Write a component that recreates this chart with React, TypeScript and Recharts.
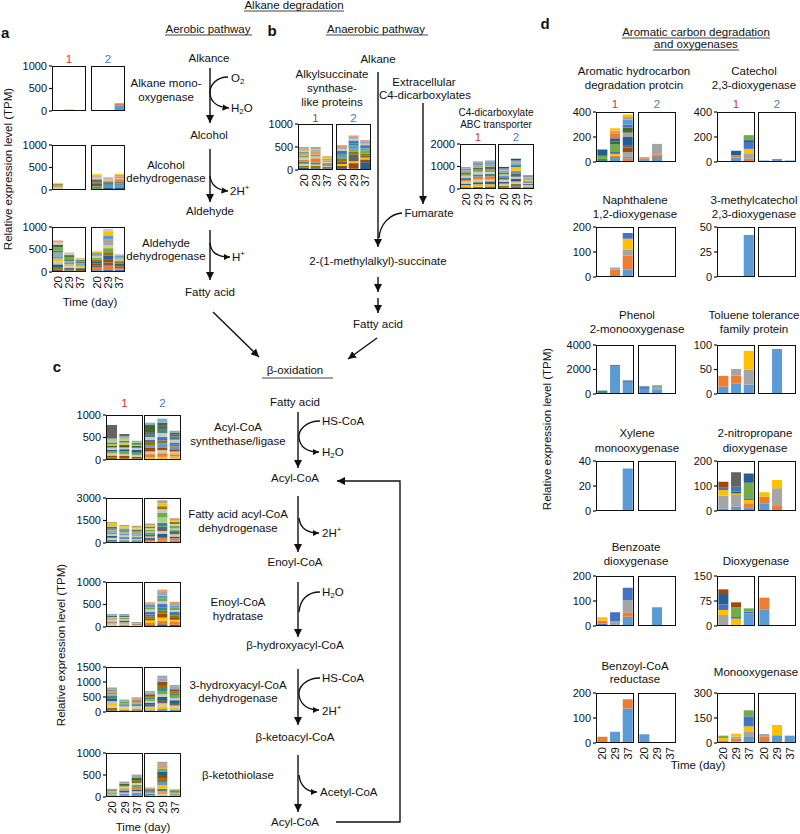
import React from 'react'
import { BarChart, Bar, XAxis, YAxis } from 'recharts'

// sampling days shared by every small chart
const DAYS = ['20', '29', '37']

// Excel-like palette, one colour per taxon / gene group
const PALETTE = [
  '#5b9bd5', '#ed7d31', '#a5a5a5', '#ffc000', '#4472c4', '#70ad47',
  '#255e91', '#9e480e', '#636363', '#997300', '#264478', '#43682b',
  '#7cafdd', '#f1975a', '#c9c9c9', '#ffcd33', '#3e8a7e', '#a9d18e',
  '#d6c7a1', '#9dc3e6', '#8faadc', '#b7a36b',
]

// each row: [palette index, day 20, day 29, day 37] (TPM), stacked bottom -> top
type Row = number[]

// ---- a: aerobic alkane degradation
const alkMonoR1: Row[] = [[6, 0, 25, 0], [0, 0, 5, 0]]
const alkMonoR2: Row[] = [[0, 0, 0, 115], [1, 0, 0, 40], [13, 0, 0, 20]]
const alcDhR1: Row[] = [[18, 60, 0, 0], [21, 55, 0, 0], [9, 15, 0, 0], [11, 10, 0, 0]]
const alcDhR2: Row[] = [
  [5, 50, 20, 20], [6, 20, 40, 25], [0, 15, 30, 60], [7, 50, 15, 10],
  [16, 40, 25, 30], [9, 25, 30, 15], [8, 30, 25, 20], [1, 20, 15, 60],
  [18, 30, 30, 25], [2, 25, 30, 30], [13, 20, 15, 45], [3, 25, 15, 20],
]
const aldDhR1: Row[] = [
  [8, 60, 30, 20], [9, 50, 40, 25], [6, 60, 25, 40], [18, 70, 35, 25],
  [3, 60, 40, 30], [0, 50, 30, 35], [2, 80, 45, 20], [16, 50, 40, 30],
  [5, 70, 50, 25], [11, 50, 40, 20], [14, 60, 35, 25], [13, 40, 20, 15],
]
const aldDhR2: Row[] = [
  [4, 40, 60, 50], [1, 60, 80, 40], [8, 40, 70, 30], [7, 50, 60, 35],
  [6, 50, 90, 30], [9, 30, 80, 40], [5, 40, 90, 35], [18, 40, 70, 30],
  [2, 30, 120, 30], [0, 40, 80, 35], [3, 30, 90, 25], [14, 20, 70, 20],
]

// ---- b: anaerobic pathway
const assR1: Row[] = [
  [6, 50, 40, 40], [9, 40, 50, 30], [18, 45, 30, 25], [16, 50, 45, 30],
  [1, 40, 90, 35], [14, 45, 40, 20], [5, 40, 35, 25], [13, 45, 70, 20],
  [0, 40, 30, 20], [3, 35, 25, 35], [2, 40, 25, 5], [21, 30, 20, 15],
]
const assR2: Row[] = [
  [6, 40, 30, 170], [7, 50, 120, 60], [3, 40, 40, 40], [8, 60, 150, 50],
  [9, 50, 60, 40], [5, 40, 50, 70], [0, 50, 80, 40], [16, 40, 40, 30],
  [4, 50, 70, 40], [18, 40, 40, 30], [12, 40, 40, 40], [13, 40, 30, 40],
]
const c4R1: Row[] = [
  [9, 80, 100, 120], [3, 90, 110, 90], [6, 70, 90, 130], [18, 100, 120, 80],
  [1, 60, 130, 150], [16, 90, 100, 100], [14, 100, 110, 90], [5, 80, 100, 110],
  [8, 70, 90, 120], [21, 90, 100, 90], [0, 80, 100, 110], [2, 70, 80, 80],
]
const c4R2: Row[] = [
  [4, 80, 120, 60], [9, 70, 110, 50], [18, 90, 100, 70], [6, 80, 130, 40],
  [14, 100, 90, 60], [8, 70, 150, 50], [0, 90, 110, 40], [3, 70, 160, 50],
  [16, 90, 100, 40], [12, 80, 100, 40], [2, 90, 100, 60], [10, 70, 80, 40],
]

// ---- c: beta-oxidation
const acsR1: Row[] = [
  [9, 60, 40, 40], [7, 40, 50, 30], [18, 50, 40, 40], [5, 40, 60, 50],
  [6, 30, 50, 60], [14, 60, 40, 50], [11, 40, 60, 40], [3, 30, 50, 30],
  [16, 40, 40, 40], [17, 60, 60, 20], [2, 30, 40, 30], [8, 300, 50, 0],
]
const acsR2: Row[] = [
  [3, 60, 70, 80], [1, 70, 80, 50], [18, 60, 70, 60], [7, 80, 60, 50],
  [0, 60, 90, 60], [9, 70, 60, 40], [4, 50, 80, 50], [14, 60, 90, 60],
  [16, 50, 70, 70], [8, 60, 90, 50], [11, 170, 70, 40], [12, 40, 90, 40],
]
const fadR1: Row[] = [
  [7, 100, 80, 90], [16, 120, 100, 100], [14, 130, 110, 90], [6, 110, 100, 110],
  [18, 140, 120, 100], [0, 120, 100, 90], [2, 130, 110, 100], [5, 100, 90, 100],
  [8, 130, 110, 90], [17, 120, 100, 100], [3, 100, 90, 90], [21, 100, 90, 90],
]
const fadR2: Row[] = [
  [0, 100, 150, 150], [1, 110, 200, 160], [6, 120, 250, 130], [18, 100, 200, 150],
  [8, 120, 300, 140], [16, 110, 250, 120], [17, 100, 350, 150], [5, 120, 300, 140],
  [14, 100, 250, 130], [9, 110, 200, 140], [3, 110, 200, 120], [2, 100, 200, 120],
]
const echR1: Row[] = [
  [9, 30, 40, 20], [18, 40, 30, 15], [2, 30, 40, 10], [7, 25, 35, 15],
  [14, 40, 30, 10], [5, 30, 30, 15], [3, 25, 20, 5], [8, 30, 30, 10],
  [21, 20, 15, 5], [0, 20, 20, 5],
]
const echR2: Row[] = [
  [6, 40, 60, 50], [1, 50, 80, 60], [3, 60, 70, 50], [7, 40, 90, 40],
  [9, 50, 60, 50], [16, 40, 70, 40], [4, 60, 80, 50], [14, 50, 60, 40],
  [5, 40, 70, 50], [0, 60, 60, 40], [2, 30, 80, 40], [13, 30, 50, 50],
]
const hadR1: Row[] = [
  [8, 60, 40, 40], [9, 80, 40, 50], [18, 70, 40, 40], [3, 90, 30, 30],
  [14, 60, 40, 50], [6, 100, 30, 40], [16, 70, 40, 30], [2, 60, 40, 50],
  [5, 50, 30, 40], [1, 40, 30, 50], [0, 60, 30, 30], [21, 80, 30, 40],
]
const hadR2: Row[] = [
  [0, 60, 100, 70], [3, 70, 90, 80], [18, 50, 100, 70], [8, 60, 110, 80],
  [6, 70, 100, 90], [14, 60, 90, 70], [5, 50, 110, 80], [16, 60, 100, 70],
  [9, 50, 100, 80], [7, 60, 110, 70], [12, 60, 100, 80], [2, 50, 100, 60],
]
const ktR1: Row[] = [
  [16, 20, 30, 40], [0, 20, 40, 50], [18, 20, 30, 40], [6, 20, 50, 40],
  [1, 10, 20, 60], [5, 20, 30, 50], [14, 20, 40, 40], [9, 20, 30, 50],
  [11, 20, 30, 60], [2, 20, 50, 80],
]
const ktR2: Row[] = [
  [18, 20, 60, 20], [13, 20, 70, 20], [16, 30, 60, 20], [3, 20, 80, 20],
  [0, 20, 70, 20], [9, 20, 90, 20], [7, 20, 70, 20], [6, 25, 80, 10],
  [5, 20, 70, 10], [13, 20, 80, 10], [2, 0, 70, 10],
]

// ---- d: aromatic carbon degradation and oxygenases
const aroHydR1: Row[] = [
  [1, 0, 0, 30], [0, 0, 40, 15], [16, 25, 0, 0], [1, 0, 10, 0], [2, 0, 0, 35],
  [3, 0, 15, 0], [7, 0, 0, 35], [4, 0, 15, 0], [8, 0, 0, 20], [5, 25, 60, 0],
  [11, 0, 25, 0], [6, 50, 25, 65], [2, 0, 0, 35], [1, 0, 40, 0], [11, 0, 0, 40],
  [13, 0, 20, 0], [4, 0, 0, 25], [0, 0, 0, 40], [2, 0, 0, 20], [3, 0, 20, 20],
]
const aroHydR2: Row[] = [[0, 15, 40, 0], [1, 15, 20, 0], [2, 0, 85, 0], [13, 10, 0, 0]]
const catR1: Row[] = [
  [1, 0, 0, 25], [0, 0, 35, 0], [2, 0, 0, 45], [1, 0, 20, 0], [3, 0, 0, 35],
  [6, 0, 35, 0], [4, 0, 0, 55], [6, 0, 0, 15], [5, 0, 0, 40],
]
const catR2: Row[] = [[0, 12, 25, 12]]
const naphR1: Row[] = [[0, 0, 0, 30], [1, 0, 30, 55], [2, 0, 8, 25], [3, 0, 0, 43], [4, 0, 0, 23]]
const naphR2: Row[] = []
const mcatR1: Row[] = [[0, 0, 0, 42]]
const mcatR2: Row[] = []
const phenR1: Row[] = [[16, 280, 0, 0], [0, 0, 2250, 1000], [6, 0, 100, 100]]
const phenR2: Row[] = [[0, 420, 330, 0], [4, 140, 0, 0], [2, 0, 270, 0], [6, 60, 0, 0], [16, 0, 100, 0]]
const tolR1: Row[] = [[0, 15, 21, 19], [1, 22, 17, 0], [2, 0, 13, 31], [3, 0, 0, 38]]
const tolR2: Row[] = [[0, 0, 92, 0]]
const xylR1: Row[] = [[0, 0, 0, 34]]
const xylR2: Row[] = []
const nitR1: Row[] = [
  [0, 11, 17, 15], [1, 0, 0, 16], [2, 50, 47, 0], [3, 23, 6, 13], [4, 9, 0, 7],
  [6, 0, 7, 0], [4, 0, 20, 0], [5, 0, 0, 62], [7, 24, 0, 0], [8, 0, 58, 0], [6, 0, 0, 37],
]
const nitR2: Row[] = [[0, 31, 0, 0], [1, 26, 20, 0], [2, 0, 71, 0], [3, 18, 33, 0]]
const benzR1: Row[] = [
  [0, 0, 0, 37], [4, 8, 0, 0], [2, 4, 20, 0], [1, 10, 0, 18], [3, 13, 0, 0],
  [2, 0, 0, 49], [4, 0, 35, 49],
]
const benzR2: Row[] = [[0, 0, 75, 0]]
const dioxR1: Row[] = [
  [0, 0, 0, 38], [2, 33, 0, 0], [3, 15, 22, 0], [4, 17, 5, 5], [6, 31, 0, 0],
  [5, 0, 29, 10], [7, 14, 15, 0],
]
const dioxR2: Row[] = [[0, 50, 0, 0], [1, 35, 0, 0]]
const bzcoaR1: Row[] = [[1, 25, 0, 0], [0, 0, 45, 138], [1, 0, 0, 37]]
const bzcoaR2: Row[] = [[0, 35, 0, 0]]
const monoR1: Row[] = [[0, 0, 8, 36], [1, 16, 17, 0], [2, 0, 13, 30], [3, 14, 18, 34], [4, 0, 0, 60], [5, 14, 0, 36]]
const monoR2: Row[] = [[0, 0, 46, 44], [1, 40, 0, 0], [2, 14, 0, 0], [3, 0, 62, 0]]

// y-axis ticks
const T1000 = [0, 500, 1000]
const T1500 = [0, 500, 1000, 1500]
const T2000 = [0, 1000, 2000]
const T3000 = [0, 1500, 3000]
const T400 = [0, 200, 400]
const T200 = [0, 100, 200]
const T50 = [0, 25, 50]
const T4000 = [0, 2000, 4000]
const T100 = [0, 50, 100]
const T40 = [0, 20, 40]
const T150 = [0, 75, 150]
const T300 = [0, 150, 300]

interface Pair {
  x: number; x2: number; y: number; w: number; h: number
  ticks: number[]; inner: number; r1: Row[]; r2: Row[]
  gap: string; xl?: boolean; lab?: number
}

const DL = 596, DL2 = 638, DR = 717, DR2 = 758
const PAIRS: Pair[] = [
  { x: 52, x2: 91, y: 66, w: 34, h: 45, ticks: T1000, inner: 500, r1: alkMonoR1, r2: alkMonoR2, gap: '8%', lab: 59 },
  { x: 52, x2: 91, y: 145, w: 34, h: 45, ticks: T1000, inner: 500, r1: alcDhR1, r2: alcDhR2, gap: '8%' },
  { x: 52, x2: 91, y: 227, w: 34, h: 45, ticks: T1000, inner: 500, r1: aldDhR1, r2: aldDhR2, gap: '8%', xl: true },
  { x: 298, x2: 336, y: 124, w: 35, h: 46, ticks: T1000, inner: 500, r1: assR1, r2: assR2, gap: '8%', xl: true, lab: 118 },
  { x: 460, x2: 498, y: 144, w: 36, h: 45, ticks: T2000, inner: 1000, r1: c4R1, r2: c4R2, gap: '8%', xl: true, lab: 137 },
  { x: 106, x2: 144, y: 415, w: 37, h: 45, ticks: T1000, inner: 500, r1: acsR1, r2: acsR2, gap: '8%', lab: 403 },
  { x: 106, x2: 144, y: 498, w: 37, h: 45, ticks: T3000, inner: 1500, r1: fadR1, r2: fadR2, gap: '8%' },
  { x: 106, x2: 144, y: 582, w: 37, h: 45, ticks: T1000, inner: 500, r1: echR1, r2: echR2, gap: '8%' },
  { x: 106, x2: 144, y: 667, w: 37, h: 45, ticks: T1500, inner: 1000, r1: hadR1, r2: hadR2, gap: '8%' },
  { x: 106, x2: 144, y: 753, w: 37, h: 44, ticks: T1000, inner: 500, r1: ktR1, r2: ktR2, gap: '8%', xl: true },
  { x: DL, x2: DL2, y: 112, w: 38, h: 50, ticks: T400, inner: 200, r1: aroHydR1, r2: aroHydR2, gap: '11%', lab: 104 },
  { x: DR, x2: DR2, y: 112, w: 38, h: 50, ticks: T400, inner: 200, r1: catR1, r2: catR2, gap: '11%', lab: 104 },
  { x: DL, x2: DL2, y: 227, w: 38, h: 50, ticks: T200, inner: 100, r1: naphR1, r2: naphR2, gap: '11%' },
  { x: DR, x2: DR2, y: 227, w: 38, h: 50, ticks: T50, inner: 25, r1: mcatR1, r2: mcatR2, gap: '11%' },
  { x: DL, x2: DL2, y: 345, w: 38, h: 49, ticks: T4000, inner: 2000, r1: phenR1, r2: phenR2, gap: '11%' },
  { x: DR, x2: DR2, y: 345, w: 38, h: 49, ticks: T100, inner: 50, r1: tolR1, r2: tolR2, gap: '11%' },
  { x: DL, x2: DL2, y: 461, w: 38, h: 50, ticks: T40, inner: 20, r1: xylR1, r2: xylR2, gap: '11%' },
  { x: DR, x2: DR2, y: 461, w: 38, h: 50, ticks: T200, inner: 100, r1: nitR1, r2: nitR2, gap: '11%' },
  { x: DL, x2: DL2, y: 576, w: 38, h: 50, ticks: T200, inner: 100, r1: benzR1, r2: benzR2, gap: '11%' },
  { x: DR, x2: DR2, y: 576, w: 38, h: 50, ticks: T150, inner: 75, r1: dioxR1, r2: dioxR2, gap: '11%' },
  { x: DL, x2: DL2, y: 693, w: 38, h: 50, ticks: T200, inner: 100, r1: bzcoaR1, r2: bzcoaR2, gap: '11%', xl: true },
  { x: DR, x2: DR2, y: 693, w: 38, h: 50, ticks: T300, inner: 150, r1: monoR1, r2: monoR2, gap: '11%', xl: true },
]

const INK = '#111'
const FONT = '"Liberation Sans", Arial, sans-serif'
const PAD = 8

function DayTick(props: any) {
  const { x, y, payload } = props
  return (
    <text transform={`translate(${x},${y}) rotate(-90)`} textAnchor="end" dominantBaseline="central" fontSize={11.5} fill={INK}>
      {payload.value}
    </text>
  )
}

function Box({ rows, x, y, w, h, ticks, inner, first, xl, gap }: {
  rows: Row[]; x: number; y: number; w: number; h: number; ticks: number[]
  inner: number; first: boolean; xl?: boolean; gap: string
}) {
  const data = DAYS.map((d, j) => {
    const o: Record<string, any> = { day: d }
    rows.forEach((r, i) => { o['s' + i] = r[j + 1] })
    return o
  })
  const axisW = first ? 34 : 0
  const max = ticks[ticks.length - 1]
  const xh = 22
  return (
    <div style={{ position: 'absolute', left: x - axisW, top: y - PAD }}>
      <BarChart
        width={axisW + w + 2}
        height={PAD + h + (xl ? xh : PAD)}
        data={data}
        margin={{ top: PAD, right: 2, bottom: xl ? 0 : PAD, left: 0 }}
        barCategoryGap={gap}
      >
        <XAxis dataKey="day" hide={!xl} height={xh} axisLine={false} tickLine={false}
          tickSize={0} tickMargin={4} interval={0} tick={<DayTick />} />
        {first ? (
          <YAxis type="number" domain={[0, max]} ticks={ticks} interval={0} width={axisW}
            axisLine={false} tickSize={3} tickMargin={2} allowDataOverflow
            tick={{ fontSize: 11, fill: INK }} tickLine={{ stroke: INK, strokeWidth: 1.2 }} />
        ) : (
          <YAxis type="number" domain={[0, max]} ticks={[inner]} interval={0} width={0} mirror
            axisLine={false} tick={false} tickSize={3} allowDataOverflow
            tickLine={{ stroke: INK, strokeWidth: 1.2 }} />
        )}
        {rows.map((r, i) => (
          <Bar key={i} dataKey={'s' + i} stackId="s" fill={PALETTE[r[0]]} isAnimationActive={false} />
        ))}
      </BarChart>
      <div style={{
        position: 'absolute', left: axisW, top: PAD, width: w, height: h,
        border: `1.5px solid ${INK}`, boxSizing: 'border-box',
      }} />
    </div>
  )
}

function T({ x, y, a = 'middle', s = 11.5, w, c = INK, children }: any) {
  return (
    <text x={x} y={y} textAnchor={a} dominantBaseline="central" fontSize={s} fontWeight={w} fill={c}>
      {children}
    </text>
  )
}

const sub = (t: string) => <tspan fontSize={8} dy={3}>{t}</tspan>
const sup = (t: string) => <tspan fontSize={8} dy={-4}>{t}</tspan>

function YLabel({ x, y }: { x: number; y: number }) {
  return (
    <text transform={`translate(${x},${y}) rotate(-90)`} textAnchor="middle" dominantBaseline="central" fontSize={11.5} fill={INK}>
      Relative expression level (TPM)
    </text>
  )
}

function Overlay() {
  const L = { stroke: INK, strokeWidth: 1.4, fill: 'none' }
  const U = { stroke: INK, strokeWidth: 0.8 }
  return (
    <svg width={800} height={834} style={{ position: 'absolute', left: 0, top: 0 }}>
      <defs>
        <marker id="ah" viewBox="0 0 10 10" refX="10" refY="5" markerWidth="8" markerHeight="8"
          markerUnits="userSpaceOnUse" orient="auto">
          <path d="M0,0 L10,5 L0,10 z" fill={INK} />
        </marker>
        <marker id="as" viewBox="0 0 10 10" refX="10" refY="5" markerWidth="6.5" markerHeight="6.5"
          markerUnits="userSpaceOnUse" orient="auto">
          <path d="M0,0 L10,5 L0,10 z" fill={INK} />
        </marker>
      </defs>

      {/* panel letters and headings */}
      <T x={1} y={32} a="start" s={15} w="bold">a</T>
      <T x={272} y={30} s={15} w="bold">b</T>
      <T x={57} y={366} s={15} w="bold">c</T>
      <T x={545} y={23} s={15} w="bold">d</T>

      <T x={294} y={5}>Alkane degradation</T>
      <line x1={244} y1={11} x2={344} y2={11} {...U} />
      <T x={208} y={29}>Aerobic pathway</T>
      <line x1={165} y1={35} x2={252} y2={35} {...U} />
      <T x={376} y={29}>Anaerobic pathway</T>
      <line x1={326} y1={35} x2={428} y2={35} {...U} />
      <T x={295} y={370}>β-oxidation</T>
      <line x1={262} y1={378} x2={333} y2={378} {...U} />
      <T x={696} y={32}>Aromatic carbon degradation</T>
      <line x1={622} y1={38} x2={770} y2={38} {...U} />
      <T x={696} y={44}>and oxygenases</T>
      <line x1={653} y1={50} x2={739} y2={50} {...U} />

      {/* y labels and time labels */}
      <YLabel x={8} y={169} />
      <YLabel x={61} y={645} />
      <YLabel x={547} y={429} />
      <T x={90} y={302}>Time (day)</T>
      <T x={143} y={827}>Time (day)</T>
      <T x={698} y={765}>Time (day)</T>

      {/* a: aerobic pathway */}
      <T x={166} y={83}>Alkane mono-</T>
      <T x={166} y={97}>oxygenase</T>
      <T x={166} y={165}>Alcohol</T>
      <T x={166} y={178}>dehydrogenase</T>
      <T x={166} y={243}>Aldehyde</T>
      <T x={166} y={256}>dehydrogenase</T>
      <T x={209} y={58}>Alkance</T>
      <T x={209} y={135}>Alcohol</T>
      <T x={210} y={211}>Aldehyde</T>
      <T x={210} y={292}>Fatty acid</T>
      <T x={231} y={78} a="start">O{sub('2')}</T>
      <T x={231} y={108} a="start">H{sub('2')}<tspan dy={-3}>O</tspan></T>
      <T x={230} y={191} a="start">2H{sup('+')}</T>
      <T x={232} y={257} a="start">H{sup('+')}</T>
      <line x1={210} y1={68} x2={210} y2={123} {...L} markerEnd="url(#ah)" />
      <line x1={210} y1={149} x2={210} y2={202} {...L} markerEnd="url(#ah)" />
      <line x1={210} y1={230} x2={210} y2={280} {...L} markerEnd="url(#ah)" />
      <path d="M228,77 C216,77 209,86 210,94 C211,102 216,107 229,108" {...L} markerEnd="url(#as)" />
      <path d="M210,176 C211,185 216,190 228,191" {...L} markerEnd="url(#as)" />
      <path d="M210,243 C211,252 216,257 230,257" {...L} markerEnd="url(#as)" />
      <line x1={213} y1={312} x2={259} y2={357} {...L} markerEnd="url(#ah)" />

      {/* b: anaerobic pathway */}
      <T x={378} y={59}>Alkane</T>
      <T x={332} y={74}>Alkylsuccinate</T>
      <T x={332} y={88}>synthase-</T>
      <T x={332} y={102}>like proteins</T>
      <T x={424} y={82}>Extracellular</T>
      <T x={425} y={95}>C4-dicarboxylates</T>
      <T x={496} y={112} s={10}>C4-dicarboxylate</T>
      <T x={496} y={124} s={10}>ABC transporter</T>
      <T x={429} y={213}>Fumarate</T>
      <T x={378} y={261}>2-(1-methylalkyl)-succinate</T>
      <T x={378} y={324}>Fatty acid</T>
      <line x1={378} y1={72} x2={378} y2={247} {...L} markerEnd="url(#ah)" />
      <line x1={423} y1={103} x2={423} y2={204} {...L} markerEnd="url(#ah)" />
      <path d="M402,213 C390,214 380,224 379,238" {...L} />
      <line x1={378} y1={277} x2={378} y2={292} {...L} markerEnd="url(#ah)" />
      <line x1={378} y1={298} x2={378} y2={313} {...L} markerEnd="url(#ah)" />
      <line x1={377} y1={338} x2={348} y2={359} {...L} markerEnd="url(#ah)" />

      {/* c: beta-oxidation */}
      <T x={295} y={402}>Fatty acid</T>
      <T x={295} y={478}>Acyl-CoA</T>
      <T x={295} y={562}>Enoyl-CoA</T>
      <T x={295} y={645}>β-hydroxyacyl-CoA</T>
      <T x={295} y={737}>β-ketoacyl-CoA</T>
      <T x={295} y={822}>Acyl-CoA</T>
      <T x={238} y={427}>Acyl-CoA</T>
      <T x={238} y={441}>synthethase/ligase</T>
      <T x={238} y={514}>Fatty acid acyl-CoA</T>
      <T x={238} y={528}>dehydrogenase</T>
      <T x={238} y={602}>Enoyl-CoA</T>
      <T x={238} y={616}>hydratase</T>
      <T x={238} y={685}>3-hydroxyacyl-CoA</T>
      <T x={238} y={698}>dehydrogenase</T>
      <T x={238} y={775}>β-ketothiolase</T>
      <T x={322} y={421} a="start">HS-CoA</T>
      <T x={322} y={452} a="start">H{sub('2')}<tspan dy={-3}>O</tspan></T>
      <T x={322} y={533} a="start">2H{sup('+')}</T>
      <T x={322} y={592} a="start">H{sub('2')}<tspan dy={-3}>O</tspan></T>
      <T x={322} y={678} a="start">HS-CoA</T>
      <T x={322} y={711} a="start">2H{sup('+')}</T>
      <T x={320} y={792} a="start">Acetyl-CoA</T>
      <line x1={298} y1={412} x2={298} y2={468} {...L} markerEnd="url(#ah)" />
      <line x1={298} y1={496} x2={298} y2={552} {...L} markerEnd="url(#ah)" />
      <line x1={298} y1={582} x2={298} y2={637} {...L} markerEnd="url(#ah)" />
      <line x1={298} y1={669} x2={298} y2={725} {...L} markerEnd="url(#ah)" />
      <line x1={298} y1={755} x2={298} y2={812} {...L} markerEnd="url(#ah)" />
      <path d="M320,421 C306,421 298,430 299,438 C300,446 306,452 319,452" {...L} markerEnd="url(#as)" />
      <path d="M299,518 C300,527 306,533 319,533" {...L} markerEnd="url(#as)" />
      <path d="M320,592 C307,592 300,600 299,612" {...L} />
      <path d="M320,678 C306,678 298,687 299,695 C300,703 306,710 319,710" {...L} markerEnd="url(#as)" />
      <path d="M299,775 C300,785 306,792 317,792" {...L} markerEnd="url(#as)" />
      <polyline points="336,822 400,822 400,481 337,481" {...L} markerEnd="url(#ah)" />

      {/* d: chart titles */}
      <T x={634} y={71}>Aromatic hydrocarbon</T>
      <T x={634} y={85}>degradation protcin</T>
      <T x={754} y={71}>Catechol</T>
      <T x={754} y={85}>2,3-dioxygenase</T>
      <T x={635} y={200}>Naphthalene</T>
      <T x={635} y={214}>1,2-dioxygenase</T>
      <T x={754} y={200}>3-methylcatechol</T>
      <T x={754} y={214}>2,3-dioxygenase</T>
      <T x={637} y={315}>Phenol</T>
      <T x={637} y={329}>2-monooxygenase</T>
      <T x={754} y={315}>Toluene tolerance</T>
      <T x={754} y={329}>family protein</T>
      <T x={637} y={433}>Xylene</T>
      <T x={637} y={448}>monooxygenase</T>
      <T x={755} y={433}>2-nitropropane</T>
      <T x={755} y={448}>dioxygenase</T>
      <T x={636} y={547}>Benzoate</T>
      <T x={636} y={561}>dioxygenase</T>
      <T x={756} y={561}>Dioxygenase</T>
      <T x={635} y={666}>Benzoyl-CoA</T>
      <T x={635} y={679}>reductase</T>
      <T x={756} y={672}>Monooxygenase</T>
    </svg>
  )
}

export default function App() {
  return (
    <div style={{
      position: 'absolute', left: 0, top: 0, width: 800, height: 834,
      background: '#fff', overflow: 'hidden', fontFamily: FONT, color: INK,
    }}>
      <Overlay />
      {PAIRS.map((p, i) => (
        <React.Fragment key={i}>
          {p.lab !== undefined && (
            <>
              <div style={{ position: 'absolute', left: p.x, width: p.w, top: p.lab - 8, textAlign: 'center', fontSize: 11.5, lineHeight: '16px', color: '#c23b3b' }}>1</div>
              <div style={{ position: 'absolute', left: p.x2, width: p.w, top: p.lab - 8, textAlign: 'center', fontSize: 11.5, lineHeight: '16px', color: '#4a7cb8' }}>2</div>
            </>
          )}
          <Box rows={p.r1} x={p.x} y={p.y} w={p.w} h={p.h} ticks={p.ticks} inner={p.inner} first xl={p.xl} gap={p.gap} />
          <Box rows={p.r2} x={p.x2} y={p.y} w={p.w} h={p.h} ticks={p.ticks} inner={p.inner} first={false} xl={p.xl} gap={p.gap} />
        </React.Fragment>
      ))}
    </div>
  )
}
